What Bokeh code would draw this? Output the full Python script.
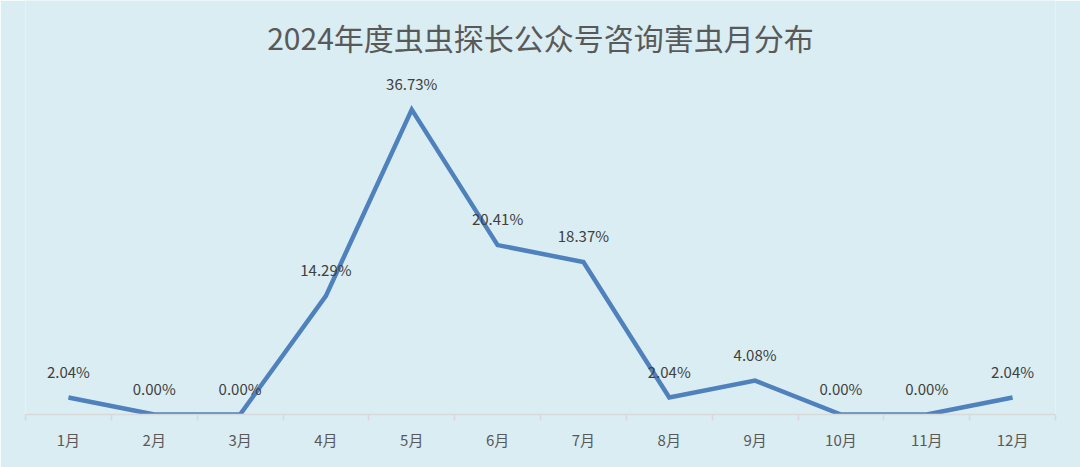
from bokeh.plotting import figure
from bokeh.models import ColumnDataSource, FixedTicker, Range1d, Label, LabelSet
from bokeh.core.properties import value
from bokeh.embed import file_html
from bokeh.resources import INLINE

months = ["1月", "2月", "3月", "4月", "5月", "6月", "7月", "8月", "9月", "10月", "11月", "12月"]
shares = [2.04, 0.00, 0.00, 14.29, 36.73, 20.41, 18.37, 2.04, 4.08, 0.00, 0.00, 2.04]
title_text = "2024年度虫虫探长公众号咨询害虫月分布"

BG = "#DAEDF3"
FONT = "Noto Sans CJK SC"
PX_PER_UNIT = 332 / 40          # vertical scale of the reference
FRAME_H = 414                   # frame spans from canvas top to the axis line
Y_TOP = FRAME_H / PX_PER_UNIT

xs = [i + 0.5 for i in range(len(months))]
src = ColumnDataSource(dict(x=xs, y=shares, lab=[f"{v:.2f}%" for v in shares]))

p = figure(width=1080, height=467, output_backend="svg", toolbar_location=None,
           x_range=Range1d(0, len(months)), y_range=Range1d(0, Y_TOP),
           min_border_left=25, min_border_right=25, min_border_top=0, min_border_bottom=53)
p.background_fill_color = BG
p.border_fill_color = BG
p.outline_line_color = None
p.grid.grid_line_color = None
p.yaxis.visible = False

p.line("x", "y", source=src, line_color="#4F81BD", line_width=4.5, line_join="miter")

labels = LabelSet(x="x", y="y", text="lab", source=src, text_align="center",
                  text_baseline="alphabetic", y_offset=20, text_font=value(FONT),
                  text_font_size=value("15px"), text_color=value("#404040"))
p.add_layout(labels)

title = Label(x=len(months) / 2, y=(FRAME_H - 36) / PX_PER_UNIT, text=title_text,
              text_align="center", text_baseline="middle", text_font=FONT,
              text_font_size="30px", text_color="#595959")
p.add_layout(title)

ax = p.xaxis[0]
ax.ticker = FixedTicker(ticks=xs, minor_ticks=list(range(len(months) + 1)))
ax.major_label_overrides = {x: m for x, m in zip(xs, months)}
ax.major_tick_in = 0
ax.major_tick_out = 0
ax.minor_tick_in = 0
ax.minor_tick_out = 6
ax.minor_tick_line_color = "#D9D9D9"
ax.minor_tick_line_width = 1.5
ax.axis_line_color = "#D9D9D9"
ax.axis_line_width = 1.5
ax.major_label_text_font = FONT
ax.major_label_text_font_size = "15px"
ax.major_label_text_color = "#595959"
ax.major_label_standoff = 8

open("out.html", "w").write(file_html(p, INLINE))
